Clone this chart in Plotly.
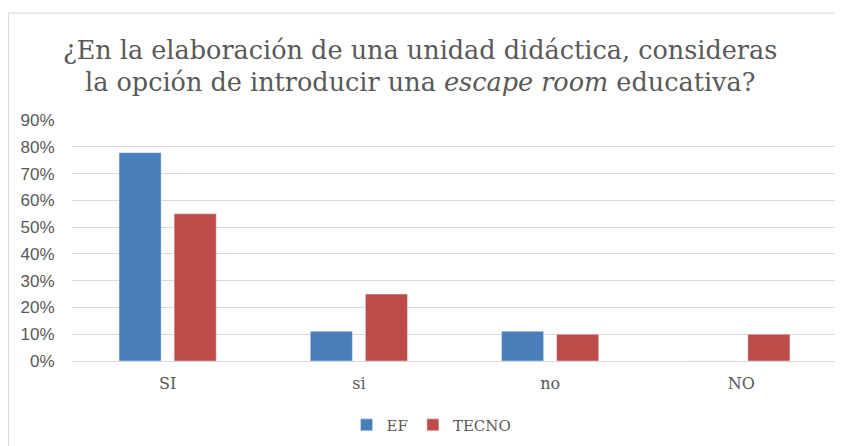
import plotly.graph_objects as go

categories = ["SI", "si", "no", "NO"]
ef_values = [0.778, 0.111, 0.111, 0.0]
tecno_values = [0.55, 0.25, 0.10, 0.10]
y_ticks = [0, 0.1, 0.2, 0.3, 0.4, 0.5, 0.6, 0.7, 0.8, 0.9]
y_labels = ["0%", "10%", "20%", "30%", "40%", "50%", "60%", "70%", "80%", "90%"]
title_lines = [
    "¿En la elaboración de una unidad didáctica, consideras",
    "la opción de introducir una <i>escape room</i> educativa?",
]

SERIF = "DejaVu Serif, Liberation Serif, serif"
SANS = "Liberation Sans, Arial, sans-serif"
GRAY = "#595959"

fig = go.Figure()
fig.add_trace(go.Bar(x=categories, y=ef_values, name="EF", marker_color="#4a7ebb"))
fig.add_trace(go.Bar(x=categories, y=tecno_values, name="TECNO", marker_color="#be4b48"))

# outer chart frame (light grey border like the Excel chart area)
fig.add_shape(type="rect", xref="paper", yref="paper",
              x0=-0.083, x1=1.02, y0=-0.4, y1=1.444,
              line=dict(color="#d9d9d9", width=1), fillcolor="rgba(0,0,0,0)", layer="below")

# two-line title, placed as annotations to control the line spacing
for line, ypos in zip(title_lines, [1.292, 1.156]):
    fig.add_annotation(text=line, xref="paper", yref="paper", x=0.455, y=ypos,
                       xanchor="center", yanchor="middle", showarrow=False,
                       font=dict(family=SERIF, size=25.5, color=GRAY))

# page body adds an 8px offset, so the figure is sized to the visible area
fig.update_layout(
    width=835, height=438,
    margin=dict(l=64, r=6, t=112, b=85, autoexpand=False),
    paper_bgcolor="white", plot_bgcolor="white",
    barmode="group", bargap=0.424, bargroupgap=0.236,
    legend=dict(orientation="h", x=0.47, xanchor="center", y=-0.266, yanchor="middle",
                font=dict(family=SERIF, size=15, color=GRAY), itemwidth=30,
                traceorder="normal"),
    showlegend=True,
)
fig.update_xaxes(
    showgrid=False, showline=False, zeroline=False, automargin=False,
    ticks="outside", ticklen=8, tickcolor="rgba(0,0,0,0)",
    tickfont=dict(family=SERIF, size=16, color=GRAY),
)
fig.update_yaxes(
    range=[0, 0.9], tickvals=y_ticks, ticktext=y_labels, automargin=False,
    showgrid=True, gridcolor="#d9d9d9", gridwidth=1,
    zeroline=True, zerolinecolor="#d9d9d9", zerolinewidth=1,
    showline=False, ticks="outside", ticklen=13, tickcolor="rgba(0,0,0,0)",
    tickfont=dict(family=SANS, size=17, color=GRAY),
)

fig.write_html("out.html")
